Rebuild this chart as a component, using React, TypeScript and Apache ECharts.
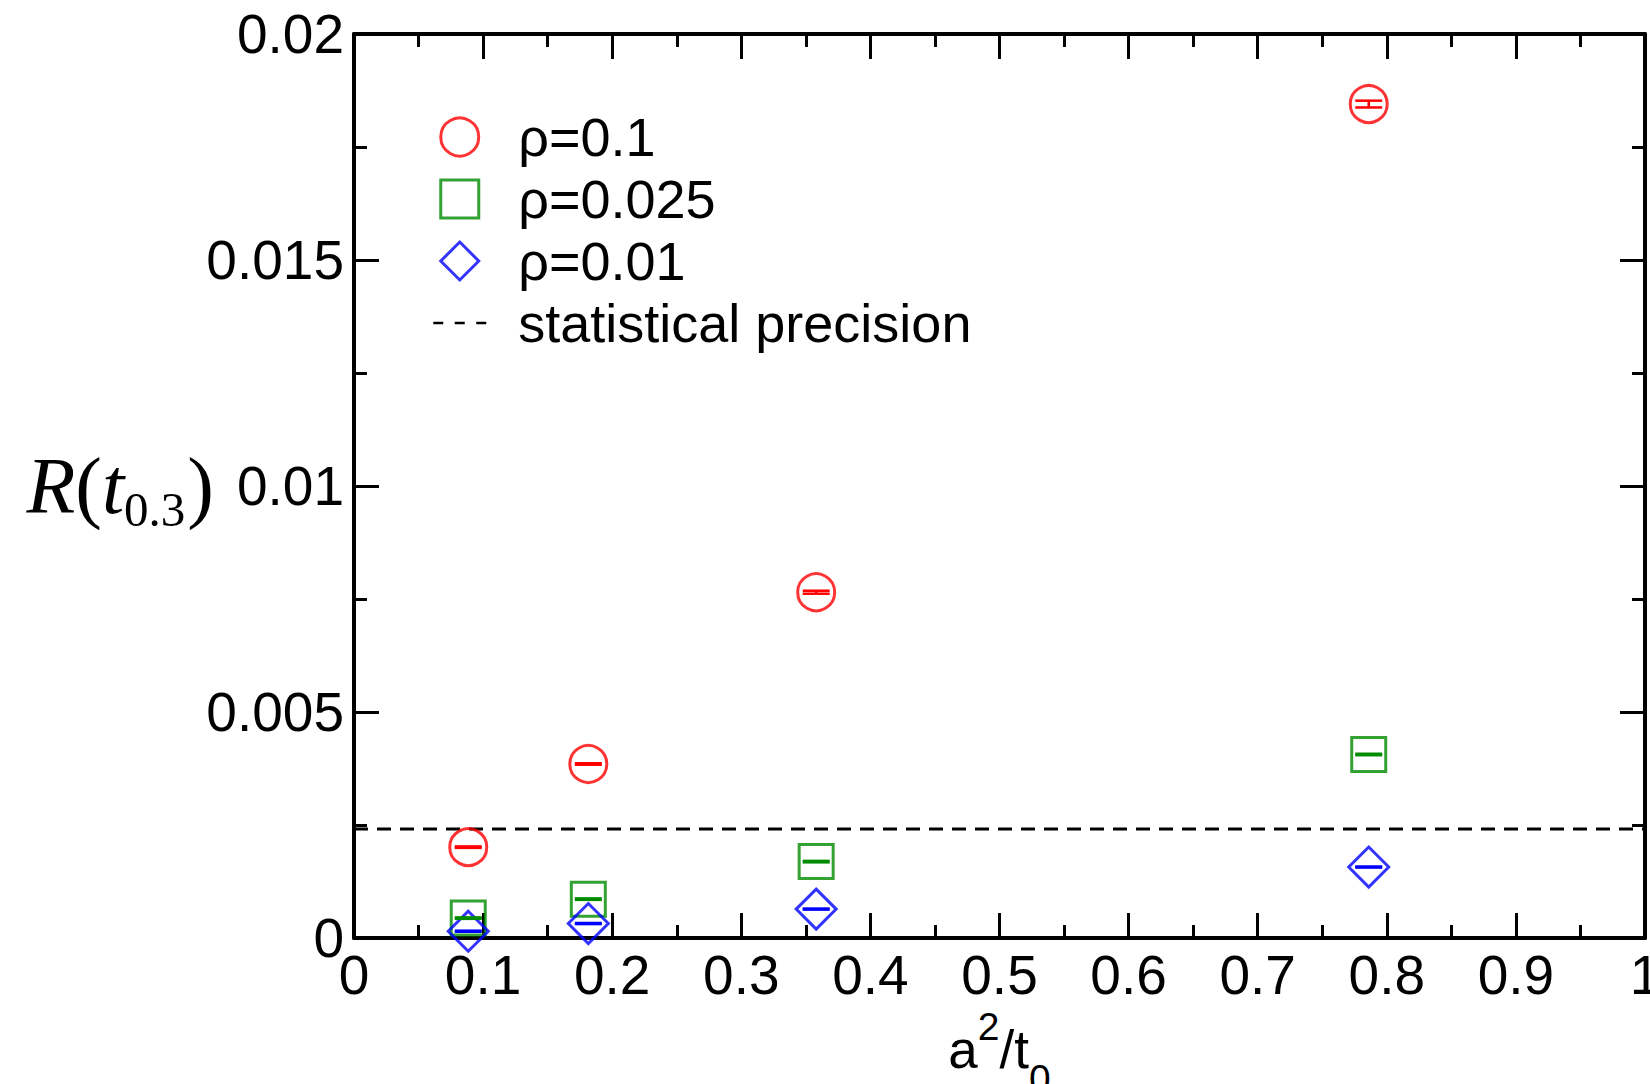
import { useEffect, useRef } from 'react';
import * as echarts from 'echarts';

// ---- data ----
const xValues = [0.0885, 0.1815, 0.358, 0.786]; // a^2/t0
const rho01 = [0.00201, 0.00385, 0.00765, 0.01845];
const rho01Err = [0.000016, 0.000016, 0.000033, 0.000075];
const rho0025 = [0.00044, 0.00086, 0.00169, 0.00406];
const rho0025Err = [0.000016, 0.000016, 0.000016, 0.000016];
const rho001 = [0.00015, 0.00032, 0.00064, 0.00157];
const rho001Err = [0.000012, 0.000012, 0.000012, 0.000012];
const precisionLevel = 0.00241;
const seriesNames = ['ρ=0.1', 'ρ=0.025', 'ρ=0.01', 'statistical precision'];

const RED = '#ff0000';
const GREEN = '#008b00';
const BLUE = '#0000ff';
const SANS = '"Liberation Sans", Arial, Helvetica, sans-serif';
const SERIF = '"Liberation Serif", "Times New Roman", Times, serif';

function axisCommon(min: number, max: number, interval: number) {
  return {
    type: 'value' as const,
    min,
    max,
    interval,
    axisLine: { show: true, onZero: false, lineStyle: { color: '#000', width: 4 } },
    axisTick: { show: true, inside: true, length: 25, lineStyle: { color: '#000', width: 3 } },
    minorTick: { show: true, splitNumber: 2, length: 13, lineStyle: { color: '#000', width: 3 } },
    splitLine: { show: false },
    minorSplitLine: { show: false },
  };
}

function errorSeries(name: string, ys: number[], errs: number[], color: string, width: number) {
  return {
    type: 'custom',
    name,
    xAxisIndex: 0,
    yAxisIndex: 0,
    z: 5,
    encode: { x: 0, y: 1 },
    data: xValues.map((x, i) => [x, ys[i], errs[i]]),
    renderItem: (_params: any, api: any) => {
      const x = api.value(0);
      const y = api.value(1);
      const e = api.value(2);
      const top = api.coord([x, y + e]);
      const bot = api.coord([x, y - e]);
      const hw = 13.5;
      const style = { stroke: color, lineWidth: width };
      return {
        type: 'group',
        children: [
          { type: 'line', shape: { x1: top[0], y1: top[1], x2: bot[0], y2: bot[1] }, style },
          { type: 'line', shape: { x1: top[0] - hw, y1: top[1], x2: top[0] + hw, y2: top[1] }, style },
          { type: 'line', shape: { x1: bot[0] - hw, y1: bot[1], x2: bot[0] + hw, y2: bot[1] }, style },
        ],
      };
    },
  };
}

export default function App() {
  const ref = useRef<HTMLDivElement>(null);

  useEffect(() => {
    const chart = echarts.init(ref.current!, null, { renderer: 'svg' });
    const option: any = {
      animation: false,
      backgroundColor: '#ffffff',
      grid: { left: 354, right: 5, top: 34, bottom: 146, containLabel: false, outerBoundsMode: 'none' },
      legend: {
        orient: 'vertical',
        left: 432,
        top: 110,
        padding: 0,
        itemGap: 8,
        itemWidth: 53,
        itemHeight: 38,
        selectedMode: false,
        textStyle: { fontSize: 54, color: '#000', fontFamily: SANS, padding: [0, 0, 0, 27] },
        data: [
          { name: seriesNames[0], icon: 'circle', itemStyle: { color: 'rgba(0,0,0,0)', borderColor: RED, borderWidth: 3 } },
          { name: seriesNames[1], icon: 'path://M0,0L10,0L10,10L0,10Z', itemStyle: { color: 'rgba(0,0,0,0)', borderColor: GREEN, borderWidth: 3 } },
          { name: seriesNames[2], icon: 'path://M5,0L10,5L5,10L0,5Z', itemStyle: { color: 'rgba(0,0,0,0)', borderColor: BLUE, borderWidth: 3 } },
          {
            name: seriesNames[3],
            itemStyle: { opacity: 0, color: 'rgba(0,0,0,0)', borderWidth: 0 },
            lineStyle: { color: '#000', width: 2.5, type: [10, 11.5] },
          },
        ],
      },
      xAxis: [
        {
          ...axisCommon(0, 1, 0.1),
          position: 'bottom',
          axisLabel: { show: true, fontSize: 55, color: '#000', fontFamily: SANS, margin: 9 },
          name: '{b|a}{sup|2}{b|/t}{sub|0}',
          nameLocation: 'middle',
          nameGap: 69,
          nameMoveOverlap: false,
          nameTextStyle: {
            color: '#000',
            rich: {
              b: { fontSize: 53, lineHeight: 53, fontFamily: SANS, color: '#000', verticalAlign: 'top', padding: [16, 0, 0, 0] },
              sup: { fontSize: 39, lineHeight: 39, fontFamily: SANS, color: '#000', verticalAlign: 'top', padding: [0, 0, 0, 0] },
              sub: { fontSize: 39, lineHeight: 39, fontFamily: SANS, color: '#000', verticalAlign: 'top', padding: [52, 0, 0, 0] },
            },
          },
        },
        {
          ...axisCommon(0, 1, 0.1),
          position: 'top',
          axisLabel: { show: false },
        },
      ],
      yAxis: [
        {
          ...axisCommon(0, 0.02, 0.005),
          position: 'left',
          axisLabel: { show: true, fontSize: 55, color: '#000', fontFamily: SANS, margin: 10 },
          name: '{i|R}{n|(}{i|t}{s|0.3}{n|)}',
          nameLocation: 'middle',
          nameRotate: 0,
          nameGap: 140,
          nameMoveOverlap: false,
          nameTextStyle: {
            color: '#000',
            rich: {
              i: { fontSize: 80, lineHeight: 80, fontFamily: SERIF, fontStyle: 'italic', color: '#000', verticalAlign: 'top' },
              n: { fontSize: 80, lineHeight: 80, fontFamily: SERIF, color: '#000', verticalAlign: 'top' },
              s: { fontSize: 49, lineHeight: 49, fontFamily: SERIF, color: '#000', verticalAlign: 'top', padding: [39, 2, 28, 0] },
            },
          },
        },
        {
          ...axisCommon(0, 0.02, 0.005),
          position: 'right',
          axisLabel: { show: false },
        },
      ],
      series: [
        {
          type: 'line',
          name: seriesNames[3],
          xAxisIndex: 0,
          yAxisIndex: 0,
          symbol: 'none',
          showSymbol: false,
          z: 2,
          lineStyle: { color: '#000', width: 3, type: [14, 9] },
          itemStyle: { color: '#000' },
          data: [
            [0, precisionLevel],
            [1, precisionLevel],
          ],
        },
        {
          type: 'scatter',
          name: seriesNames[0],
          xAxisIndex: 0,
          yAxisIndex: 0,
          symbol: 'circle',
          symbolSize: 37,
          z: 3,
          itemStyle: { color: 'rgba(0,0,0,0)', borderColor: RED, borderWidth: 3 },
          data: xValues.map((x, i) => [x, rho01[i]]),
        },
        {
          type: 'scatter',
          name: seriesNames[1],
          xAxisIndex: 0,
          yAxisIndex: 0,
          symbol: 'rect',
          symbolSize: 34,
          z: 3,
          itemStyle: { color: 'rgba(0,0,0,0)', borderColor: GREEN, borderWidth: 3 },
          data: xValues.map((x, i) => [x, rho0025[i]]),
        },
        {
          type: 'scatter',
          name: seriesNames[2],
          xAxisIndex: 0,
          yAxisIndex: 0,
          symbol: 'diamond',
          symbolSize: 40,
          z: 4,
          itemStyle: { color: 'rgba(0,0,0,0)', borderColor: BLUE, borderWidth: 3 },
          data: xValues.map((x, i) => [x, rho001[i]]),
        },
        errorSeries('err-0.1', rho01, rho01Err, RED, 2.5),
        errorSeries('err-0.025', rho0025, rho0025Err, GREEN, 2.5),
        errorSeries('err-0.01', rho001, rho001Err, BLUE, 2.5),
      ],
    };
    chart.setOption(option);
    return () => chart.dispose();
  }, []);

  return (
    <div
      ref={ref}
      style={{ position: 'absolute', left: 0, top: 0, width: 1650, height: 1084, background: '#fff' }}
    />
  );
}
